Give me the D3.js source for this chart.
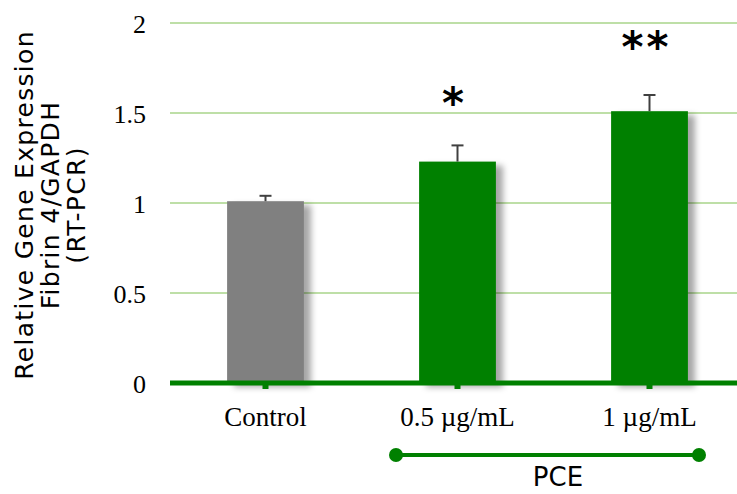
<!DOCTYPE html>
<html lang="en">
<head>
<meta charset="UTF-8">
<title>Fibrin 4 expression</title>
<script src="https://d3js.org/d3.v7.min.js"></script>
<style>
  body { margin: 0; background: #fff; }
</style>
</head>
<body>
<script>
  const categories = ["Control", "0.5 \u00b5g/mL", "1 \u00b5g/mL"]
  const values = [1.01, 1.23, 1.51]
  const errors = [0.03, 0.09, 0.09]
  const marks = ["", "*", "**"]
  const barColors = ["#808080", "#008000", "#008000"]
  const yTicks = [0, 0.5, 1, 1.5, 2]

  const w = 737, h = 494
  const serif = "'Liberation Serif', 'Times New Roman', serif"
  const sans = "'DejaVu Sans', Verdana, sans-serif"

  const svg = d3.select("body").append("svg")
      .attr("width", w)
      .attr("height", h)

  const defs = svg.append("defs")
  const shadow = defs.append("filter")
      .attr("id", "shadow")
      .attr("x", "-20%").attr("y", "-10%")
      .attr("width", "150%").attr("height", "130%")
  shadow.append("feDropShadow")
      .attr("dx", 7).attr("dy", 4)
      .attr("stdDeviation", 3)
      .attr("flood-color", "#000")
      .attr("flood-opacity", 0.35)

  const x = d3.scaleBand()
      .domain(categories)
      .range([169.5, 745.5])
      .paddingInner(0.6)
      .paddingOuter(0.3)

  const y = d3.scaleLinear()
      .domain([0, 2])
      .range([383, 23])

  // gridlines
  svg.append("g")
    .selectAll("line")
    .data(yTicks.filter(d => d > 0))
    .join("line")
      .attr("x1", 170).attr("x2", w)
      .attr("y1", d => y(d)).attr("y2", d => y(d))
      .attr("stroke", "#a9d58a")
      .attr("stroke-width", 1.5)

  // y tick labels
  svg.append("g")
    .selectAll("text")
    .data(yTicks)
    .join("text")
      .attr("x", 146)
      .attr("y", d => y(d))
      .attr("dy", "0.4em")
      .attr("text-anchor", "end")
      .style("font-family", serif)
      .style("font-size", "26px")
      .attr("fill", "#000")
      .text(d => d)

  // bars
  svg.append("g")
    .selectAll("rect")
    .data(values)
    .join("rect")
      .attr("x", (d, i) => x(categories[i]))
      .attr("y", d => y(d))
      .attr("width", x.bandwidth())
      .attr("height", d => y(0) - y(d))
      .attr("fill", (d, i) => barColors[i])
      .attr("filter", "url(#shadow)")

  // error bars
  const eb = svg.append("g")
    .attr("stroke", "#404040")
    .attr("stroke-width", 2)
  values.forEach((v, i) => {
    const cx = x(categories[i]) + x.bandwidth() / 2
    eb.append("line")
      .attr("x1", cx).attr("x2", cx)
      .attr("y1", y(v)).attr("y2", y(v + errors[i]))
    eb.append("line")
      .attr("x1", cx - 6).attr("x2", cx + 6)
      .attr("y1", y(v + errors[i])).attr("y2", y(v + errors[i]))
  })

  // significance marks
  svg.append("g")
    .selectAll("text")
    .data(marks)
    .join("text")
      .attr("x", (d, i) => x(categories[i]) + x.bandwidth() / 2 - 3)
      .attr("y", (d, i) => i === 1 ? 118 : 62)
      .attr("text-anchor", "middle")
      .style("font-family", sans)
      .style("font-weight", "bold")
      .style("font-size", "42px")
      .style("letter-spacing", "3px")
      .text(d => d)

  // x axis
  svg.append("line")
    .attr("x1", 170).attr("x2", w)
    .attr("y1", y(0)).attr("y2", y(0))
    .attr("stroke", "#008000")
    .attr("stroke-width", 5)

  svg.append("g")
    .selectAll("rect")
    .data(categories)
    .join("rect")
      .attr("x", d => x(d) + x.bandwidth() / 2 - 3)
      .attr("y", y(0) + 2)
      .attr("width", 6)
      .attr("height", 4)
      .attr("fill", "#008000")

  svg.append("g")
    .selectAll("text")
    .data(categories)
    .join("text")
      .attr("x", d => x(d) + x.bandwidth() / 2)
      .attr("y", 426)
      .attr("text-anchor", "middle")
      .style("font-family", serif)
      .style("font-size", "27px")
      .text(d => d)

  // PCE bracket
  const pce = svg.append("g")
  pce.append("line")
    .attr("x1", 396).attr("x2", 699)
    .attr("y1", 455).attr("y2", 455)
    .attr("stroke", "#008000")
    .attr("stroke-width", 4)
  pce.selectAll("circle")
    .data([396, 699])
    .join("circle")
      .attr("cx", d => d).attr("cy", 455)
      .attr("r", 7)
      .attr("fill", "#008000")
  pce.append("text")
    .attr("x", 558).attr("y", 486)
    .attr("text-anchor", "middle")
    .style("font-family", sans)
    .style("font-size", "26px")
    .text("PCE")

  // y axis title
  const title = ["Relative Gene Expression", "Fibrin 4/GAPDH", "(RT-PCR)"]
  svg.append("text")
    .attr("transform", "translate(0,205) rotate(-90)")
    .attr("text-anchor", "middle")
    .style("font-family", sans)
    .style("font-size", "25px")
    .style("letter-spacing", "1.3px")
    .selectAll("tspan")
    .data(title)
    .join("tspan")
      .attr("x", 0)
      .attr("y", (d, i) => 33 + i * 26)
      .text(d => d)
</script>
</body>
</html>
